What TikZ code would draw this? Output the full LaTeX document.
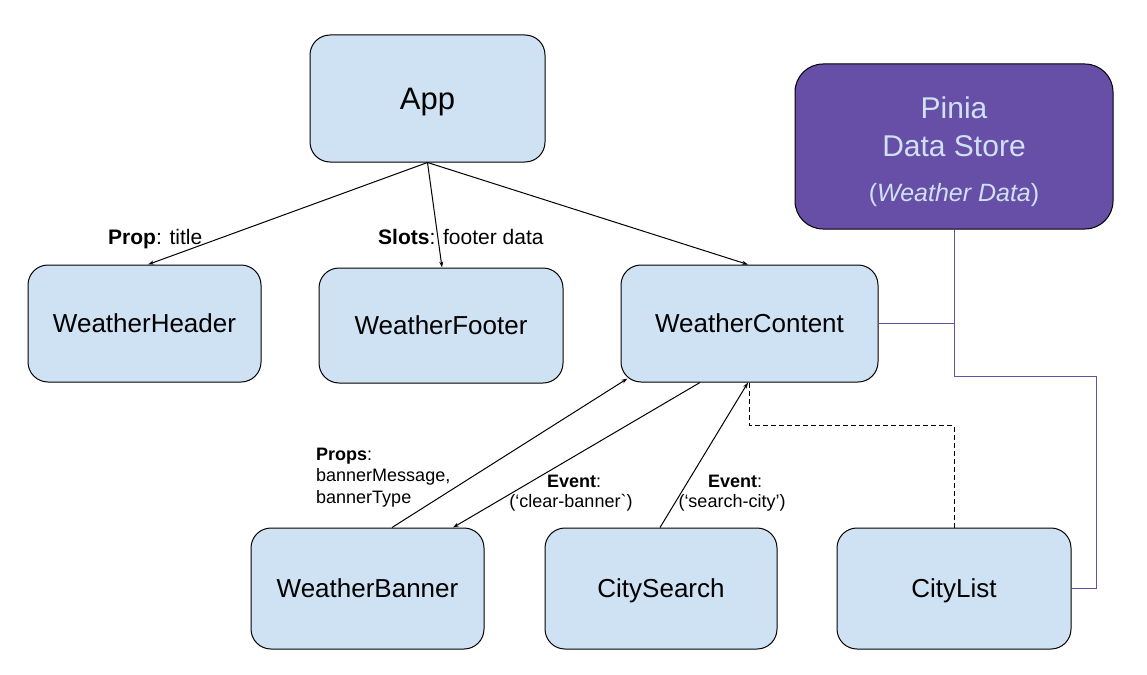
\documentclass[tikz,border=0pt]{standalone}
\usepackage{fontspec}
\setmainfont{Liberation Sans}
\newfontfamily\rawfont{Liberation Sans}[Ligatures=TeXOff]
\usetikzlibrary{arrows.meta,calc}
\definecolor{boxfill}{HTML}{CFE2F3}
\definecolor{pinia}{HTML}{674EA7}
\begin{document}
\begin{tikzpicture}[x=1pt,y=-1pt,
  box/.style={draw=black, line width=1pt, fill=boxfill, rounded corners=20pt, inner sep=0pt,
    text depth=0pt, font=\fontsize{26}{30}\selectfont},
  arr/.style={line width=1pt, -{Stealth[length=6pt,width=4pt]}},
  pur/.style={draw=pinia, line width=1pt},
  lbl/.style={inner sep=0pt, font=\fontsize{21}{25}\selectfont},
  small/.style={inner sep=0pt, font=\fontsize{18}{20}\selectfont}]
\useasboundingbox (0,0) rectangle (1147,674);
% nodes
\node[box, minimum width=235pt, minimum height=127pt, font=\fontsize{31}{36}\selectfont] (app) at (427.5,98.5) {App};
\node[draw=black, line width=1pt, fill=pinia, rounded corners=28pt, minimum width=318pt, minimum height=165pt] (pin) at (954,146.5) {};
\node[anchor=base, inner sep=0pt, text=boxfill, font=\fontsize{30}{34}\selectfont] (pin1) at (954,118.5) {Pinia};
\node[anchor=base, inner sep=0pt, text=boxfill, font=\fontsize{30}{34}\selectfont] (pin2) at (954,156) {Data Store};
\node[anchor=base, inner sep=0pt, text=boxfill, font=\fontsize{25}{30}\selectfont] (pin3) at (954,201) {(\textit{Weather Data})};
\node[box, minimum width=233pt, minimum height=117pt] (hdr) at (144.5,323.5) {WeatherHeader};
\node[box, minimum width=244pt, minimum height=115pt] (ftr) at (441,325.5) {WeatherFooter};
\node[box, minimum width=257pt, minimum height=117pt] (cnt) at (749.5,323.5) {WeatherContent};
\node[box, minimum width=233pt, minimum height=121pt] (ban) at (367.5,588.5) {WeatherBanner};
\node[box, minimum width=232pt, minimum height=121pt] (srch) at (661,588.5) {CitySearch};
\node[box, minimum width=234pt, minimum height=121pt] (lst) at (954,588.5) {CityList};
% labels
\node[lbl, anchor=base west] (l1) at (108,244) {\textbf{Prop}: title};
\node[lbl, anchor=base west] (l2) at (378,244) {\textbf{Slots}: footer data};
\node[small, anchor=base west] (l3a) at (316,460) {\textbf{Props}:};
\node[small, anchor=base west] (l3b) at (316,481.5) {bannerMessage,};
\node[small, anchor=base west] (l3c) at (316,503) {bannerType};
\node[small, anchor=base] (l4a) at (574,487) {\textbf{Event}:};
\node[small, anchor=base] (l4b) at (571,507) {(‘clear-banner{\rawfont`})};
\node[small, anchor=base] (l5a) at (735,487) {\textbf{Event}:};
\node[small, anchor=base] (l5b) at (732,507) {(‘search-city’)};
% connectors
\draw[arr] (app.south) -- ($(hdr.north)+(3.5,0)$);
\draw[arr] (app.south) -- ($(ftr.north)+(1,0)$);
\draw[arr] (app.south) -- ($(cnt.north)+(-1.5,0)$);
\draw[arr] ($(ban.north)+(24.5,0)$) -- ($(cnt.south west)+(7,-4)$);
\draw[arr] ($(cnt.south)+(-49.5,0)$) -- ($(ban.north)+(85.5,0)$);
\draw[arr] ($(srch.north)+(-1,0)$) -- ($(cnt.south)+(-1.5,0)$);
\draw[line width=0.8pt, dash pattern=on 5pt off 3pt] (lst.north) |- ($(cnt.south)+(0,43)$) -- (cnt.south);
\coordinate (j3) at (1096,376);
\draw[pur] (pin.south) -- (pin.south |- j3) -- (j3) |- (lst.east);
\draw[pur] (cnt.east) -- (cnt.east -| pin.south);
\end{tikzpicture}
\end{document}
